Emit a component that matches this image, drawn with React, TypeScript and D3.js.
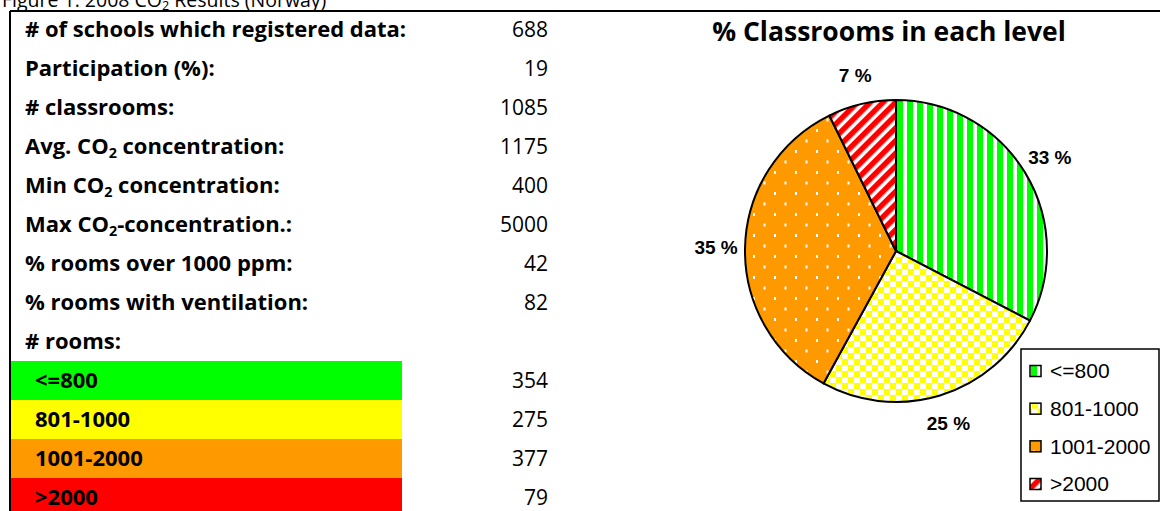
import * as d3 from "d3";
import React from "react";

const statLabels = [
  "# of schools which registered data:",
  "Participation (%):",
  "# classrooms:",
  "Avg. CO₂ concentration:",
  "Min CO₂ concentration:",
  "Max CO₂-concentration.:",
  "% rooms over 1000 ppm:",
  "% rooms with ventilation:",
  "# rooms:",
];
const statValues = ["688", "19", "1085", "1175", "400", "5000", "42", "82", ""];

const levels = ["<=800", "801-1000", "1001-2000", ">2000"];
const roomCounts = [354, 275, 377, 79];
const levelColors = ["#00ff00", "#ffff00", "#ff9900", "#ff0000"];
const patternIds = ["pGreen", "pYellow", "pOrange", "pRed"];

const W = 1160;
const H = 511;
const tableFont = "'Open Sans', Lato, sans-serif";
const chartFont = "'Liberation Sans', Arial, sans-serif";

// split on the subscript 2 so it can be drawn as a real subscript
function withSub(label: string) {
  const parts = label.split("₂");
  const out: React.ReactNode[] = [];
  parts.forEach((p, i) => {
    if (p) out.push(<tspan key={"t" + i}>{p}</tspan>);
    if (i < parts.length - 1)
      out.push(
        <tspan key={"s" + i} fontSize="0.65em" baselineShift="-25%">2</tspan>
      );
  });
  return out;
}

const App: React.FC = () => {
  const rowCount = statLabels.length + levels.length;
  const rowY = d3
    .scaleBand<number>()
    .domain(d3.range(rowCount))
    .range([10, 10 + 39 * rowCount]);

  const total = d3.sum(roomCounts);
  const pie = d3.pie<number>().sort(null).value((d) => d);
  const arcs = pie(roomCounts);
  const cx = 896;
  const cy = 251;
  const r = 151;
  const arc = d3.arc<d3.PieArcDatum<number>>().innerRadius(0).outerRadius(r);
  const labelArc = d3.arc<d3.PieArcDatum<number>>().innerRadius(180).outerRadius(180);

  const legendY = d3.scalePoint<string>().domain(levels).range([371, 484]);

  return (
    <svg
      width={W}
      height={H}
      style={{ position: "absolute", left: 0, top: 0, background: "#fff" }}
    >
      <defs>
        <pattern id="pGreen" width={10} height={10} patternUnits="userSpaceOnUse">
          <rect width={10} height={10} fill="#fff" />
          <rect x={1} width={6} height={10} fill="#00ff00" />
        </pattern>
        <pattern id="pYellow" width={12} height={12} patternUnits="userSpaceOnUse">
          <rect width={12} height={12} fill="#ffff00" />
          <rect x={0} y={0} width={6} height={6} fill="#fff" />
          <rect x={6} y={6} width={6} height={6} fill="#fff" />
          <rect x={8} y={2} width={3} height={1} fill="#fff" />
          <rect x={2} y={8} width={3} height={1} fill="#fff" />
        </pattern>
        <pattern id="pOrange" width={21} height={21} patternUnits="userSpaceOnUse">
          <rect width={21} height={21} fill="#ff9900" />
          <rect x={4} y={4} width={2} height={3} fill="#fff" />
          <rect x={14.5} y={14.5} width={2} height={3} fill="#fff" />
        </pattern>
        <pattern
          id="pRed"
          width={9}
          height={9}
          patternUnits="userSpaceOnUse"
          patternTransform="rotate(45)"
        >
          <rect width={9} height={9} fill="#fff" />
          <rect width={5.5} height={9} fill="#ff0000" />
        </pattern>
      </defs>

      {/* caption, cut at the top */}
      <text x={2} y={7} fontFamily={tableFont} fontSize={19.5} fill="#000">
        {withSub("Figure 1: 2008 CO₂ Results (Norway)")}
      </text>

      {/* coloured bands of the room table */}
      {levels.map((lv, i) => (
        <rect
          key={lv}
          x={10}
          y={rowY(statLabels.length + i)!}
          width={392}
          height={rowY.bandwidth()}
          fill={levelColors[i]}
        />
      ))}

      {/* frame */}
      <line x1={10} y1={11} x2={W} y2={11} stroke="#000" strokeWidth={2} />
      <line x1={10} y1={11} x2={10} y2={H} stroke="#000" strokeWidth={2} />

      {statLabels.map((lab, i) => (
        <g key={lab} transform={`translate(0,${rowY(i)! + rowY.bandwidth() / 2})`}>
          <text
            x={25}
            dy="0.35em"
            fontFamily={tableFont}
            fontWeight="bold"
            fontSize={22}
          >
            {withSub(lab)}
          </text>
          <text x={548} dy="0.35em" textAnchor="end" fontFamily={tableFont} fontSize={21}>
            {statValues[i]}
          </text>
        </g>
      ))}

      {levels.map((lv, i) => (
        <g
          key={lv}
          transform={`translate(0,${rowY(statLabels.length + i)! + rowY.bandwidth() / 2})`}
        >
          <text x={35} dy="0.35em" fontFamily={tableFont} fontWeight="bold" fontSize={22}>
            {lv}
          </text>
          <text x={548} dy="0.35em" textAnchor="end" fontFamily={tableFont} fontSize={21}>
            {roomCounts[i]}
          </text>
        </g>
      ))}

      {/* pie chart */}
      <text
        x={889}
        y={32}
        dy="0.35em"
        textAnchor="middle"
        fontFamily={tableFont}
        fontWeight="bold"
        fontSize={26.5}
      >
        % Classrooms in each level
      </text>
      <g transform={`translate(${cx},${cy})`}>
        {arcs.map((a, i) => (
          <path
            key={i}
            d={arc(a)!}
            fill={`url(#${patternIds[i]})`}
            stroke="#000"
            strokeWidth={2}
            strokeLinejoin="round"
          />
        ))}
        {arcs.map((a, i) => {
          const [lx, ly] = labelArc.centroid(a);
          return (
            <text
              key={"l" + i}
              x={lx}
              y={ly}
              dy="0.35em"
              textAnchor="middle"
              fontFamily={chartFont}
              fontWeight="bold"
              fontSize={19}
            >
              {`${Math.round((a.data / total) * 100)} %`}
            </text>
          );
        })}
      </g>

      {/* legend */}
      <rect x={1021} y={349} width={138} height={152} fill="#fff" stroke="#000" strokeWidth={1.5} />
      {levels.map((lv, i) => (
        <g key={lv} transform={`translate(0,${legendY(lv)})`}>
          <rect
            x={1030}
            y={-5.5}
            width={11}
            height={11}
            fill={`url(#${patternIds[i]})`}
            stroke="#000"
            strokeWidth={1.5}
          />
          <text x={1050} dy="0.35em" fontFamily={chartFont} fontSize={21}>
            {lv}
          </text>
        </g>
      ))}
    </svg>
  );
};

export default App;
